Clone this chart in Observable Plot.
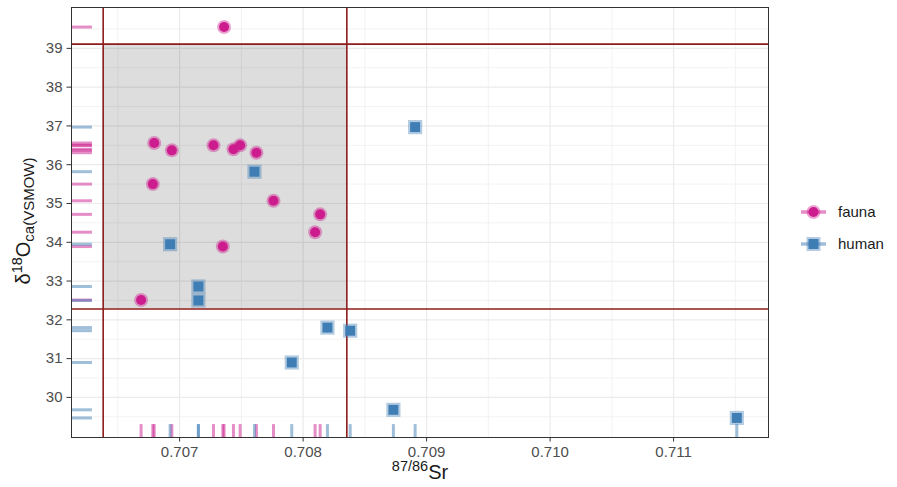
<!DOCTYPE html>
<html><head><meta charset="utf-8">
<script src="https://cdn.jsdelivr.net/npm/d3@7"></script>
<script src="https://cdn.jsdelivr.net/npm/@observablehq/plot@0.6"></script>
<style>
body{margin:0;background:#fff;font-family:"Liberation Sans",Arial,sans-serif;}
#chart{position:relative;width:897px;height:487px;}
</style></head><body><div id="chart"></div>
<script>
// ---- data ----
const faunaSr = [0.707360, 0.706794, 0.706937, 0.707274, 0.707436, 0.707490, 0.707622, 0.706783, 0.707760, 0.708138, 0.708097, 0.707350, 0.706688];
const faunaO  = [39.55, 36.56, 36.37, 36.50, 36.40, 36.50, 36.31, 35.50, 35.07, 34.72, 34.26, 33.89, 32.51];
const humanSr = [0.708907, 0.707606, 0.706923, 0.707152, 0.707152, 0.708197, 0.708381, 0.707908, 0.708731, 0.711512];
const humanO  = [36.97, 35.82, 33.95, 32.86, 32.50, 31.80, 31.72, 30.90, 29.68, 29.47];
const srRange = [0.706381, 0.708354];   // local Sr range (vertical lines)
const oRange  = [32.28, 39.11];         // local O range (horizontal lines)
const groups  = ["fauna", "human"];
const colors  = ["#CC1C8E", "#3F7DB5"];
const xTicks  = [0.707, 0.708, 0.709, 0.710, 0.711];
const yTicks  = [30, 31, 32, 33, 34, 35, 36, 37, 38, 39];
const xMinor  = [0.7065, 0.7075, 0.7085, 0.7095, 0.7105, 0.7115];
const yMinor  = [29.5, 30.5, 31.5, 32.5, 33.5, 34.5, 35.5, 36.5, 37.5, 38.5, 39.5];

// ---- build table ----
const fauna = faunaSr.map((s, i) => ({group: "fauna", sr: s, o: faunaO[i]}));
const human = humanSr.map((s, i) => ({group: "human", sr: s, o: humanO[i]}));
const data = fauna.concat(human);
const box = [{x1: srRange[0], x2: srRange[1], y1: oRange[0], y2: oRange[1]}];

// ggplot-like 5% expansion
function expand(vals) {
  const [a, b] = d3.extent(vals); const p = (b - a) * 0.05; return [a - p, b + p];
}
const xDom = expand(data.map(d => d.sr).concat(srRange));
const yDom = expand(data.map(d => d.o).concat(oRange));
const rugX2 = xDom[0] + 0.03 * (xDom[1] - xDom[0]);
const rugY2 = yDom[0] + 0.03 * (yDom[1] - yDom[0]);
const col = g => colors[groups.indexOf(g)];

const grid = "#EBEBEB";
const red = "#8E1B1B";

const chart = Plot.plot({
  width: 897, height: 487,
  marginLeft: 71, marginRight: 129, marginTop: 7, marginBottom: 50,
  x: {domain: xDom},
  y: {domain: yDom},
  style: {fontFamily: '"Liberation Sans", Arial, sans-serif', fontSize: "15px", background: "white"},
  marks: [
    Plot.ruleX(xMinor, {stroke: grid, strokeWidth: 0.6}),
    Plot.ruleY(yMinor, {stroke: grid, strokeWidth: 0.6}),
    Plot.ruleX(xTicks, {stroke: grid, strokeWidth: 1.2}),
    Plot.ruleY(yTicks, {stroke: grid, strokeWidth: 1.2}),
    Plot.rect(box, {x1: "x1", x2: "x2", y1: "y1", y2: "y2", fill: "black", fillOpacity: 0.135}),
    Plot.ruleX(srRange, {stroke: red, strokeWidth: 1.6}),
    Plot.ruleY(oRange, {stroke: red, strokeWidth: 1.6}),
    // rugs
    Plot.ruleY(data, {y: "o", x1: xDom[0], x2: rugX2, stroke: d => col(d.group), strokeWidth: 3, strokeOpacity: 0.5}),
    Plot.ruleX(data, {x: "sr", y1: yDom[0], y2: rugY2, stroke: d => col(d.group), strokeWidth: 3, strokeOpacity: 0.5}),
    // points
    Plot.dot(fauna, {x: "sr", y: "o", r: 7, fill: col("fauna"), fillOpacity: 0.4}),
    Plot.dot(fauna, {x: "sr", y: "o", r: 5, fill: col("fauna")}),
    Plot.dot(human, {x: "sr", y: "o", r: 8, symbol: "square", fill: col("human"), fillOpacity: 0.4}),
    Plot.dot(human, {x: "sr", y: "o", r: 5.6, symbol: "square", fill: col("human")}),
    Plot.frame({stroke: "#333", strokeWidth: 1}),
    Plot.axisX({ticks: xTicks, tickFormat: d3.format(".3f"), label: null, tickSize: 4.5, tickPadding: 4, stroke: "#333", fill: "#4d4d4d"}),
    Plot.axisY({ticks: yTicks, tickFormat: d3.format("d"), label: null, tickSize: 4.5, tickPadding: 4.5, stroke: "#333", fill: "#4d4d4d"})
  ]
});
document.getElementById("chart").appendChild(chart);

// ---- axis titles (with super/subscripts) ----
const svg = d3.select(chart);
const ff = '"Liberation Sans", Arial, sans-serif';
const xt = svg.append("text").attr("x", 420).attr("y", 479).attr("text-anchor", "middle")
  .attr("font-family", ff).attr("fill", "#1a1a1a");
xt.append("tspan").attr("font-size", 14.5).attr("dy", -8).text("87/86");
xt.append("tspan").attr("font-size", 20).attr("dy", 8).text("Sr");

const yt = svg.append("text").attr("transform", "translate(30,221) rotate(-90)").attr("text-anchor", "middle")
  .attr("font-family", ff).attr("fill", "#1a1a1a");
yt.append("tspan").attr("font-size", 20).text("δ");
yt.append("tspan").attr("font-size", 14.5).attr("dy", -8).text("18");
yt.append("tspan").attr("font-size", 20).attr("dy", 8).text("O");
yt.append("tspan").attr("font-size", 15).attr("dy", 4).text("ca(VSMOW)");

// ---- legend (right) ----
const lg = svg.append("g");
groups.forEach((g, i) => {
  const y = 212 + i * 32;
  const c = colors[i];
  lg.append("line").attr("x1", 801).attr("x2", 826).attr("y1", y).attr("y2", y)
    .attr("stroke", c).attr("stroke-opacity", 0.5).attr("stroke-width", 3.5);
  if (g === "fauna") {
    lg.append("circle").attr("cx", 813.5).attr("cy", y).attr("r", 7).attr("fill", c).attr("fill-opacity", 0.4);
    lg.append("circle").attr("cx", 813.5).attr("cy", y).attr("r", 5).attr("fill", c);
  } else {
    lg.append("rect").attr("x", 813.5 - 7).attr("y", y - 7).attr("width", 14).attr("height", 14).attr("fill", c).attr("fill-opacity", 0.4);
    lg.append("rect").attr("x", 813.5 - 5).attr("y", y - 5).attr("width", 10).attr("height", 10).attr("fill", c);
  }
  lg.append("text").attr("x", 838).attr("y", y).attr("dy", "0.35em").attr("text-anchor", "start")
    .attr("font-family", ff).attr("font-size", 15).attr("fill", "#1a1a1a").text(g);
});
</script>
</body></html>
